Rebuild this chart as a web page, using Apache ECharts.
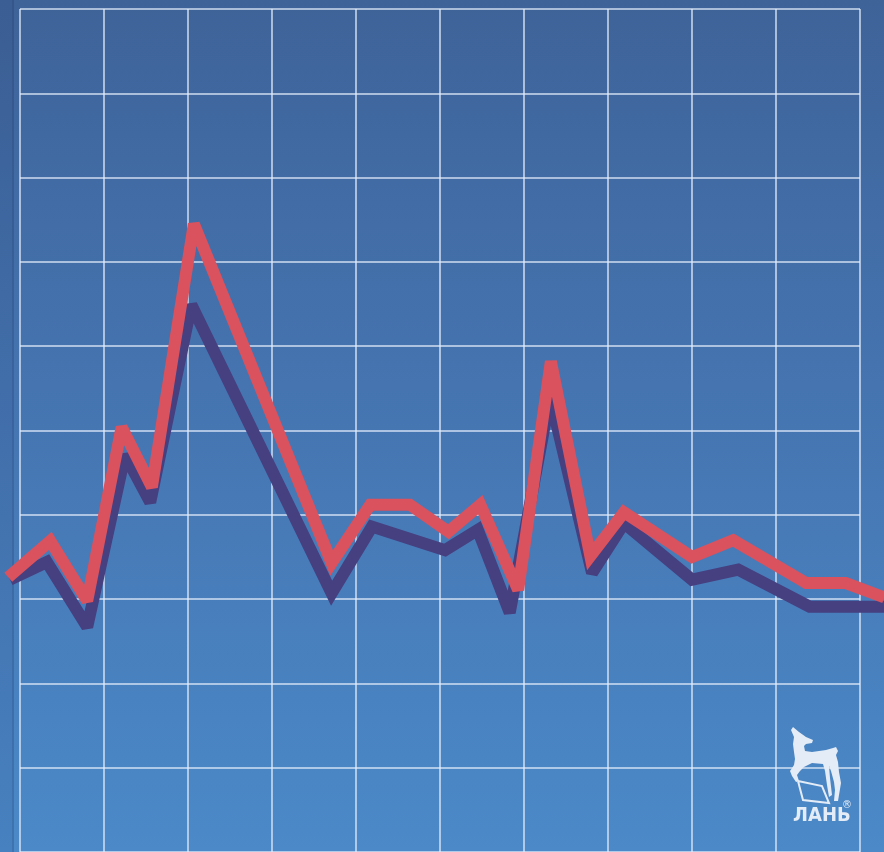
<!DOCTYPE html>
<html>
<head>
<meta charset="utf-8">
<script src="https://cdn.jsdelivr.net/npm/echarts@6/dist/echarts.min.js"></script>
<style>
html,body{margin:0;padding:0;background:#4573b0;}
#chart{width:884px;height:852px;}
</style>
</head>
<body>
<div id="chart"></div>
<script>
// grid units: x 0..10 columns, y 0..10 rows (from bottom)
const redX = [-0.14, 0.36, 0.80, 1.21, 1.57, 2.07, 3.71, 4.17, 4.64, 5.10, 5.48, 5.93, 6.32, 6.79, 7.19, 8.00, 8.49, 9.36, 9.83, 10.29];
const redY = [3.26, 3.69, 2.98, 5.04, 4.33, 7.45, 3.43, 4.12, 4.12, 3.80, 4.12, 3.11, 5.82, 3.51, 4.03, 3.50, 3.70, 3.19, 3.19, 3.02];
const darkX = [-0.12, 0.32, 0.80, 1.25, 1.55, 2.04, 3.71, 4.19, 5.06, 5.45, 5.83, 6.31, 6.81, 7.19, 8.00, 8.55, 9.40, 10.29];
const darkY = [3.23, 3.44, 2.67, 4.71, 4.15, 6.49, 3.07, 3.86, 3.58, 3.82, 2.84, 5.40, 3.31, 3.90, 3.23, 3.35, 2.91, 2.91];
const logoText = 'ЛАНЬ';

const redData = redX.map((x, i) => [x, redY[i]]);
const darkData = darkX.map((x, i) => [x, darkY[i]]);

const deerOutline = [[793,727],[799,732],[806,737],[813,740],[812,743],[806,744],[804,746],[805,751],[812,752],[826,750],[833,748],[836,747],[838,751],[836,755],[838,762],[839,772],[841,783],[839,795],[838,801],[834,801],[835,790],[834,782],[831,771],[829,766],[830,778],[832,795],[829,797],[827,785],[825,771],[823,764],[812,763],[804,767],[800,771],[797,775],[799,781],[796,782],[792,776],[790,771],[794,765],[795,759],[794,752],[793,744],[794,737],[791,730]];
const rockOutline = [[798,781],[822,786],[829,803],[803,800],[798,781]];

// plotted area spans the whole page horizontally; grid lines sit 20px..860px
const padL = 20 / 84, padR = 24 / 84;

const chart = echarts.init(document.getElementById('chart'));
const gridLine = { show: true, lineStyle: { color: 'rgba(228,238,250,0.88)', width: 1.5 } };
const hidden = { axisLine: { show: false }, axisTick: { show: false }, axisLabel: { show: false }, splitLine: { show: false } };
chart.setOption({
  animation: false,
  backgroundColor: {
    type: 'linear', x: 0, y: 0, x2: 0, y2: 1,
    colorStops: [
      { offset: 0, color: '#3e6399' },
      { offset: 0.45, color: '#4574b0' },
      { offset: 1, color: '#4b89c8' }
    ]
  },
  grid: [
    { left: 20, right: 24, top: 9, bottom: 0, containLabel: false },
    { left: 0, right: 0, top: 9, bottom: 0, containLabel: false }
  ],
  xAxis: [
    { type: 'value', gridIndex: 0, min: 0, max: 10, interval: 1,
      axisLine: { show: false }, axisTick: { show: false }, axisLabel: { show: false }, splitLine: gridLine },
    Object.assign({ type: 'value', gridIndex: 1, min: -padL, max: 10 + padR }, hidden)
  ],
  yAxis: [
    { type: 'value', gridIndex: 0, min: 0, max: 10, interval: 1,
      axisLine: { show: false }, axisTick: { show: false }, axisLabel: { show: false }, splitLine: gridLine },
    Object.assign({ type: 'value', gridIndex: 1, min: 0, max: 10 }, hidden)
  ],
  series: [
    {
      type: 'line', data: darkData, xAxisIndex: 1, yAxisIndex: 1, clip: false, symbol: 'none', z: 3,
      lineStyle: { color: '#463f80', width: 12, join: 'miter', miterLimit: 2.5, cap: 'butt' }
    },
    {
      type: 'line', data: redData, xAxisIndex: 1, yAxisIndex: 1, clip: false, symbol: 'none', z: 4,
      lineStyle: { color: '#d9525e', width: 12, join: 'miter', miterLimit: 2.5, cap: 'butt' }
    }
  ],
  graphic: [
    { type: 'rect', shape: { x: 0, y: 0, width: 14, height: 852 }, style: { fill: 'rgba(20,40,90,0.08)' }, z: 1 },
    { type: 'line', shape: { x1: 13, y1: 0, x2: 13, y2: 852 }, style: { stroke: 'rgba(20,40,90,0.15)', lineWidth: 2 }, z: 1 },
    { type: 'polygon', z: 10, shape: { points: deerOutline }, style: { fill: '#e4ecf7' } },
    { type: 'polyline', z: 10, shape: { points: rockOutline }, style: { stroke: '#e4ecf7', lineWidth: 2, fill: null } },
    {
      type: 'text', z: 10, x: 793, y: 806, scaleX: 0.9,
      style: { text: logoText, fill: '#e4ecf7', font: 'bold 20px "DejaVu Sans", sans-serif' }
    },
    {
      type: 'text', z: 10, x: 842, y: 800,
      style: { text: '®', fill: '#e4ecf7', font: '10px "DejaVu Sans", sans-serif' }
    }
  ]
});
</script>
</body>
</html>
